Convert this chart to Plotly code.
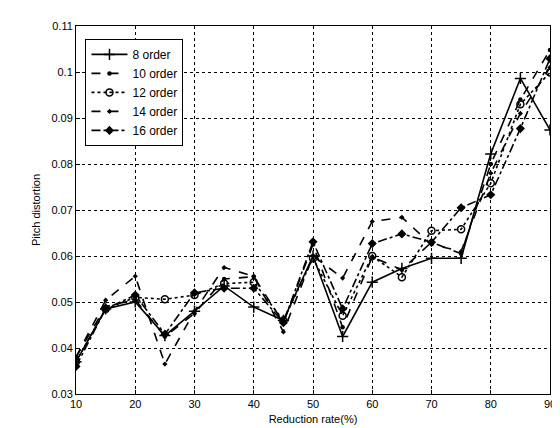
import plotly.graph_objects as go

reduction_rate = [10, 15, 20, 25, 30, 35, 40, 45, 50, 55, 60, 65, 70, 75, 80, 85, 90]

order_8 = [0.037, 0.0485, 0.050, 0.0427, 0.048, 0.0535, 0.0489, 0.046, 0.060, 0.0425, 0.0543, 0.0573, 0.0595, 0.0595, 0.0822, 0.0986, 0.0874]
order_10 = [0.038, 0.049, 0.0505, 0.0425, 0.0475, 0.055, 0.0555, 0.0455, 0.0625, 0.0445, 0.0598, 0.0570, 0.0630, 0.0605, 0.080, 0.094, 0.1048]
order_12 = [0.037, 0.0485, 0.0510, 0.0506, 0.0515, 0.054, 0.0543, 0.046, 0.0595, 0.047, 0.060, 0.0554, 0.0655, 0.0658, 0.0758, 0.093, 0.0999]
order_14 = [0.038, 0.0504, 0.0556, 0.0365, 0.048, 0.0575, 0.0556, 0.0435, 0.060, 0.0552, 0.0675, 0.0684, 0.0625, 0.061, 0.078, 0.091, 0.101]
order_16 = [0.036, 0.0485, 0.0515, 0.0430, 0.052, 0.053, 0.053, 0.0455, 0.0631, 0.0485, 0.0627, 0.0648, 0.0630, 0.0705, 0.0733, 0.0877, 0.1029]

series_names = ["8 order", "10 order", "12 order", "14 order", "16 order"]

styles = [
    dict(dash="solid", symbol="cross-thin", size=8, mlw=1.5),
    dict(dash="dash", symbol="circle", size=4.5, mlw=0),
    dict(dash="dot", symbol="circle-open", size=7, mlw=1.5),
    dict(dash="dash", symbol="diamond", size=4, mlw=0),
    dict(dash="dashdot", symbol="diamond", size=7, mlw=0),
]

fig = go.Figure()
for name, vals, st in zip(series_names, [order_8, order_10, order_12, order_14, order_16], styles):
    fig.add_trace(go.Scatter(
        x=reduction_rate, y=vals, name=name, mode="lines+markers",
        line=dict(color="black", width=1.6, dash=st["dash"]),
        marker=dict(symbol=st["symbol"], size=st["size"], color="black",
                    line=dict(color="black", width=st["mlw"])),
    ))

axis_font = dict(family="Arial, Liberation Sans, sans-serif", size=11, color="black")

fig.update_layout(
    width=560, height=428,
    margin=dict(l=68, r=13, t=14, b=42),
    paper_bgcolor="white", plot_bgcolor="white",
    font=axis_font,
    showlegend=True,
    legend=dict(
        x=0.02, y=0.965, xanchor="left", yanchor="top",
        bgcolor="white", bordercolor="black", borderwidth=1,
        font=dict(family="Arial, Liberation Sans, sans-serif", size=12, color="black"),
        itemwidth=36, tracegroupgap=0,
    ),
    xaxis=dict(
        range=[10, 90], tickvals=[10, 20, 30, 40, 50, 60, 70, 80, 90],
        showgrid=True, gridcolor="black", griddash="dot", gridwidth=1,
        showline=True, linecolor="black", linewidth=1, mirror=True,
        ticks="inside", ticklen=4, tickcolor="black",
        zeroline=False, tickfont=axis_font,
        title=dict(text="Reduction rate(%)", font=axis_font, standoff=6),
    ),
    yaxis=dict(
        range=[0.03, 0.11], tickvals=[0.03, 0.04, 0.05, 0.06, 0.07, 0.08, 0.09, 0.1, 0.11],
        ticktext=["0.03", "0.04", "0.05", "0.06", "0.07", "0.08", "0.09", "0.1", "0.11"],
        showgrid=True, gridcolor="black", griddash="dot", gridwidth=1,
        showline=True, linecolor="black", linewidth=1, mirror=True,
        ticks="inside", ticklen=4, tickcolor="black",
        zeroline=False, tickfont=axis_font,
        title=dict(text="Pitch distortion", font=axis_font, standoff=8),
    ),
)

fig.write_html("out.html")
